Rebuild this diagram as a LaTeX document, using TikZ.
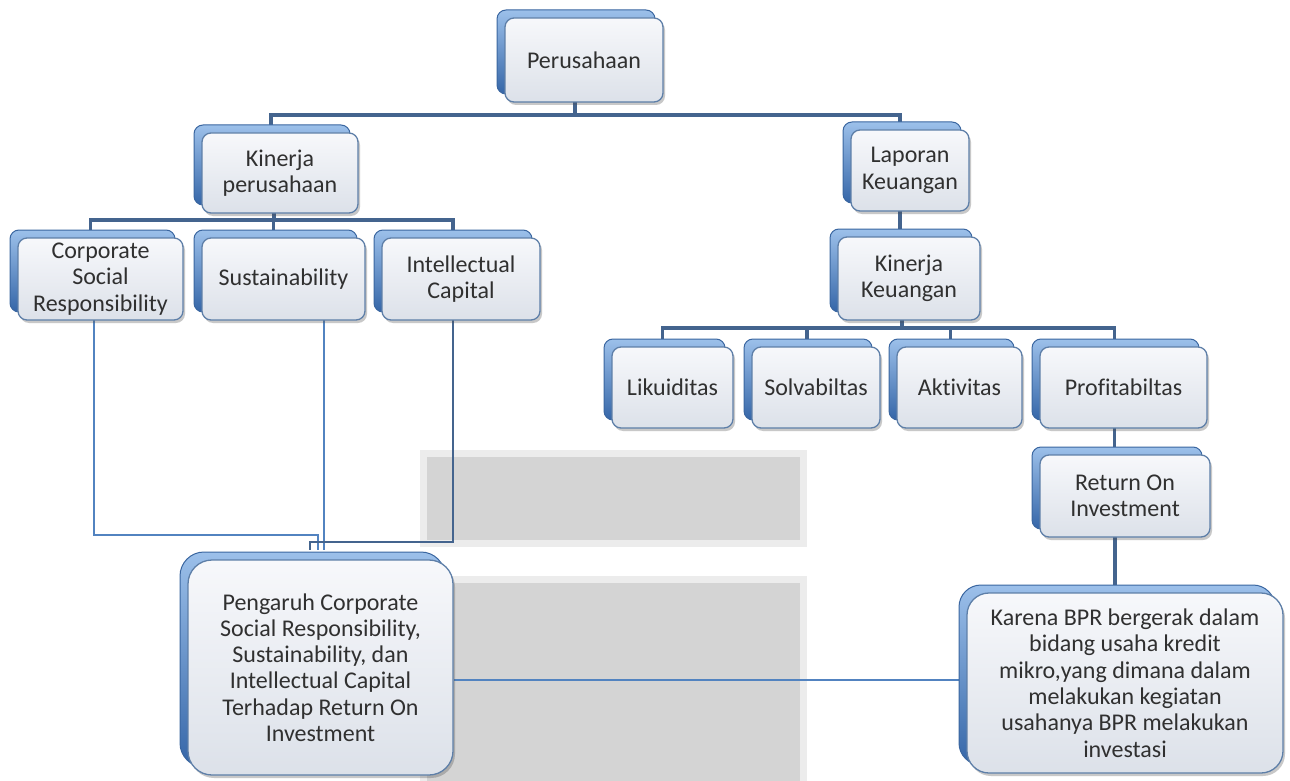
\documentclass[tikz,border=0pt]{standalone}
\usepackage{fontspec}
\setmainfont{Carlito}[Ligatures=NoCommon]
\usetikzlibrary{shadows,calc}
\definecolor{bktop}{HTML}{9CC0EA}
\definecolor{bkbot}{HTML}{3566A8}
\definecolor{bkline}{HTML}{3A66A0}
\definecolor{frtop}{HTML}{F7F8FB}
\definecolor{frbot}{HTML}{DCE1E9}
\definecolor{frline}{HTML}{5E7FA8}
\definecolor{txt}{HTML}{303030}
\definecolor{conncol}{HTML}{44648E}
\definecolor{thincol}{HTML}{5283C0}
\definecolor{wmgray}{HTML}{D4D4D4}
\definecolor{wmlight}{HTML}{ECECEC}
\pgfdeclarelayer{bg}
\pgfdeclarelayer{mid}
\pgfsetlayers{bg,mid,main}
\tikzset{
  backbox/.style={draw=bkline, line width=1pt, top color=bktop, bottom color=bkbot, rounded corners=#1},
  backbox/.default=9pt,
  frontbox/.style={draw=frline, line width=1.3pt, top color=frtop, bottom color=frbot,
    rounded corners=#1, drop shadow={shadow xshift=2pt, shadow yshift=-3pt, opacity=0.3, fill=black!70},
    inner sep=0pt, align=center, text=txt, font=\fontsize{24}{26.3}\selectfont},
  frontbox/.default=9pt,
  conn/.style={draw=conncol, line width=3.5pt, line cap=rect},
  thinconn/.style={draw=thincol, line width=1.3pt},
  medconn/.style={draw=conncol, line width=2.6pt}
}
\newcommand{\mkbox}[7][9pt]{%
  \path[backbox=#1] (#3-8,#4-8) rectangle (#5-8,#6-8);
  \node[frontbox=#1, minimum width={#5-#3}, minimum height={#6-#4}] (#2) at ({(#3+#5)/2},{(#4+#6)/2}) {#7};}
\begin{document}
\begin{tikzpicture}[x=1pt,y=-1pt]
\useasboundingbox (0,0) rectangle (1290,781);
\begin{pgfonlayer}{bg}
  \fill[white] (0,0) rectangle (1290,781);
  \fill[wmlight] (420,450) rectangle (807,547);
  \fill[wmgray] (427,457) rectangle (800,540);
  \fill[wmlight] (420,576) rectangle (807,781);
  \fill[wmgray] (427,583) rectangle (800,781);
\end{pgfonlayer}

% boxes
\mkbox{per}{505}{18}{663}{102}{Perusahaan}
\mkbox{kp}{202}{133}{358}{213}{Kinerja\\perusahaan}
\mkbox{lk}{851}{130}{969}{211}{Laporan\\Keuangan}
\mkbox{kk}{838}{237}{980}{320}{Kinerja\\Keuangan}
\mkbox{csr}{18}{238}{183}{320}{Corporate\\Social\\Responsibility}
\mkbox{sus}{202}{238}{365}{320}{Sustainability}
\mkbox{ic}{382}{238}{540}{320}{Intellectual\\Capital}
\mkbox{liq}{612}{347}{733}{428}{Likuiditas}
\mkbox{sol}{752}{347}{880}{428}{Solvabiltas}
\mkbox{akt}{897}{347}{1022}{428}{Aktivitas}
\mkbox{prof}{1040}{347}{1207}{428}{Profitabiltas}
\mkbox{roi}{1040}{455}{1210}{537}{Return On\\Investment}
\mkbox[24pt]{pen}{188}{560}{453}{775}{Pengaruh Corporate\\Social Responsibility,\\Sustainability, dan\\Intellectual Capital\\Terhadap Return On\\Investment}
\mkbox[22pt]{kar}{967}{593}{1283}{773}{Karena BPR bergerak dalam\\bidang usaha kredit\\mikro,yang dimana dalam\\melakukan kegiatan\\usahanya BPR melakukan\\investasi}

% connectors
\begin{pgfonlayer}{mid}
  \coordinate (bus1) at (0,115);
  \coordinate (bus2) at (0,220);
  \coordinate (bus3) at (0,328);
  \coordinate (perb) at ($(per.south)+(-9,0)$);
  \coordinate (kpt) at ($(kp.north)+(-9,0)$);
  \coordinate (kpb) at ($(kp.south)+(-6,0)$);
  \coordinate (lkt) at ($(lk.north)+(-10,0)$);
  \coordinate (lkb) at ($(lk.south)+(-10,0)$);
  \coordinate (kkb) at ($(kk.south)+(-7,0)$);
  \coordinate (csrt) at ($(csr.north)+(-10,0)$);
  \coordinate (sust) at ($(sus.north)+(-10,0)$);
  \coordinate (ict) at ($(ic.north)+(-8,0)$);
  \coordinate (liqt) at ($(liq.north)+(-10,0)$);
  \coordinate (solt) at ($(sol.north)+(-9,0)$);
  \coordinate (aktt) at ($(akt.north)+(-9,0)$);
  \coordinate (proft) at ($(prof.north)+(-9,0)$);
  \coordinate (profb) at ($(prof.south)+(-9,0)$);
  \coordinate (roib) at ($(roi.south)+(-10,0)$);
  \draw[conn] (perb) -- (perb |- bus1);
  \draw[conn] (kpt) -- (kpt |- bus1) -- (lkt |- bus1) -- (lkt);
  \draw[conn] (lkb) -- (lkb |- kk.north);
  \draw[conn] (kpb) -- (kpb |- bus2);
  \draw[conn] (csrt) -- (csrt |- bus2) -- (ict |- bus2) -- (ict);
  \draw[conn] (sust) -- (sust |- bus2);
  \draw[conn] (kkb) -- (kkb |- bus3);
  \draw[conn] (liqt) -- (liqt |- bus3) -- (proft |- bus3) -- (proft);
  \draw[conn] (solt) -- (solt |- bus3);
  \draw[conn] (aktt) -- (aktt |- bus3);
  \draw[conn] (profb) -- (profb |- roi.north);
  \draw[conn] (roib) -- (roib |- kar.north);
  % links into the Pengaruh box
  \coordinate (csrb) at (94,320);
  \coordinate (susb) at (324,320);
  \coordinate (icb) at (453,320);
  \draw[thinconn] (csrb) -- (94,535) -- (318,535) -- (318,550);
  \draw[thinconn] (susb) -- (324,550);
  \draw[medconn] (icb) -- (453,542) -- (310,542) -- (310,550);
  \draw[thinconn] (pen.east |- 0,680) -- (kar.west |- 0,680);
\end{pgfonlayer}
\end{tikzpicture}
\end{document}
